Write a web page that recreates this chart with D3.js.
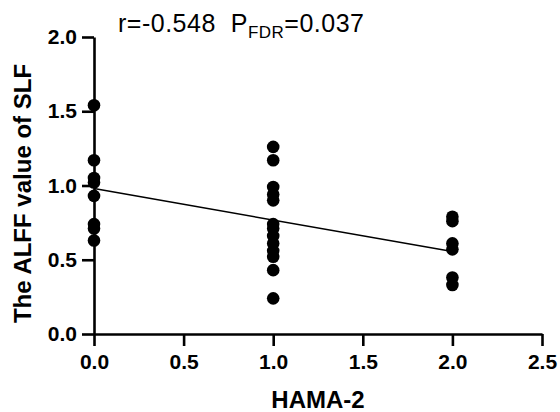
<!DOCTYPE html>
<html>
<head>
<meta charset="utf-8">
<script src="https://cdn.jsdelivr.net/npm/d3@7"></script>
<style>
  body { margin: 0; background: #fff; }
  text { font-family: "Liberation Sans", Arial, sans-serif; }
</style>
</head>
<body>
<svg id="chart" width="560" height="412"></svg>
<script>
// values
const group0 = [1.54, 1.17, 1.05, 1.02, 0.93, 0.74, 0.71, 0.63];
const group1 = [1.26, 1.17, 0.99, 0.94, 0.90, 0.74, 0.71, 0.66, 0.61, 0.56, 0.52, 0.43, 0.24];
const group2 = [0.79, 0.76, 0.61, 0.57, 0.38, 0.33];
const hamaLevels = [0, 1, 2];
const fitLine = [[0, 0.98], [2, 0.555]];
const xTicks = [0, 0.5, 1, 1.5, 2, 2.5];
const yTicks = [0, 0.5, 1, 1.5, 2];

const svg = d3.select("#chart");
const margin = {left: 94, right: 18, top: 37, bottom: 78};
const width = 560, height = 412;

const x = d3.scaleLinear().domain([0, 2.5]).range([margin.left, width - margin.right]);
const y = d3.scaleLinear().domain([0, 2]).range([height - margin.bottom, margin.top]);

var points = [];
[group0, group1, group2].forEach((g, i) => {
    g.forEach(v => points.push({x: hamaLevels[i], y: v}));
});

// axes
const xAxis = svg.append("g")
    .attr("transform", `translate(0,${y(0)})`)
    .call(d3.axisBottom(x).tickValues(xTicks).tickFormat(d3.format(".1f")).tickSize(12).tickSizeOuter(0));
const yAxis = svg.append("g")
    .attr("transform", `translate(${x(0)},0)`)
    .call(d3.axisLeft(y).tickValues(yTicks).tickFormat(d3.format(".1f")).tickSize(12).tickSizeOuter(0));

[xAxis, yAxis].forEach(a => {
    a.selectAll("path, line").attr("stroke", "#000").attr("stroke-width", 2.6);
    a.selectAll("text")
        .attr("fill", "#000")
        .style("font-size", "21px")
        .style("font-weight", "bold");
});
xAxis.selectAll("text").attr("y", 20).attr("dy", "0.71em");
yAxis.selectAll("text").attr("x", -17);

// fit line
svg.append("line")
    .attr("x1", x(fitLine[0][0])).attr("y1", y(fitLine[0][1]))
    .attr("x2", x(fitLine[1][0])).attr("y2", y(fitLine[1][1]))
    .attr("stroke", "#000")
    .attr("stroke-width", 1.5);

// points
svg.append("g").selectAll("circle")
    .data(points)
    .join("circle")
    .attr("cx", d => x(d.x))
    .attr("cy", d => y(d.y))
    .attr("r", 6.3)
    .attr("fill", "#000");

// titles
svg.append("text")
    .attr("x", (x(0) + x(2.5)) / 2)
    .attr("y", 408)
    .attr("text-anchor", "middle")
    .style("font-size", "24px")
    .style("font-weight", "bold")
    .text("HAMA-2");

svg.append("text")
    .attr("transform", `translate(31,${(y(0) + y(2)) / 2 + 8}) rotate(-90)`)
    .attr("text-anchor", "middle")
    .style("font-size", "24px")
    .style("font-weight", "bold")
    .text("The ALFF value of SLF");

// stats annotation
const ann = svg.append("text")
    .attr("x", 118)
    .attr("y", 32)
    .style("font-size", "25px")
    .style("letter-spacing", "0.5px");
ann.append("tspan").text("r=-0.548\u00a0\u00a0P");
ann.append("tspan").attr("dy", 6).style("font-size", "17px").text("FDR");
ann.append("tspan").attr("dy", -6).text("=0.037");
</script>
</body>
</html>
